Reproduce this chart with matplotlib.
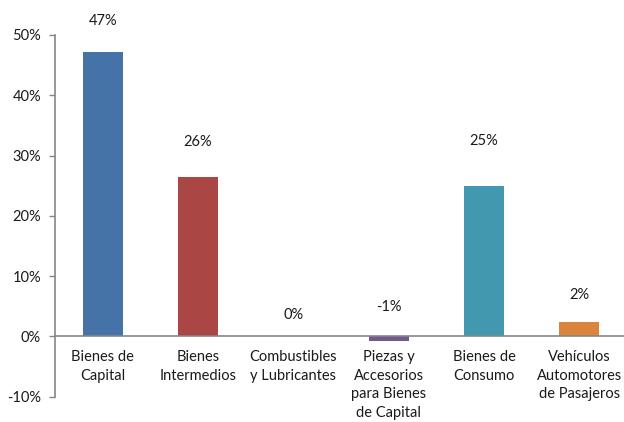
import matplotlib
matplotlib.use("Agg")
import matplotlib.pyplot as plt
import matplotlib.transforms as mtransforms

categories = ["Bienes de\nCapital", "Bienes\nIntermedios", "Combustibles\ny Lubricantes",
              "Piezas y\nAccesorios\npara Bienes\nde Capital", "Bienes de\nConsumo",
              "Vehículos\nAutomotores\nde Pasajeros"]
values = [47.2, 26.5, 0.0, -0.8, 24.9, 2.4]
value_labels = ["47%", "26%", "0%", "-1%", "25%", "2%"]
label_y = [52.3, 32.2, 3.5, 4.8, 32.4, 6.8]
colors = ["#4572A7", "#AA4643", "#89A54E", "#71588F", "#4198AF", "#DB843D"]
yticks = [-10, 0, 10, 20, 30, 40, 50]

plt.rcParams['font.family'] = ['Lato', 'DejaVu Sans']
fig = plt.figure(figsize=(6.24, 4.22), dpi=100)
ax = fig.add_axes([55/624, 25.3/422, 572/624, 361.7/422])
x = range(len(categories))
ax.bar(x, values, width=0.42, color=colors, zorder=2)
for i, (t, ly) in enumerate(zip(value_labels, label_y)):
    ax.text(i, ly, t, ha='center', va='center', fontsize=10.5, color='#1a1a1a')
off = mtransforms.ScaledTranslation(0, -10/72, fig.dpi_scale_trans)
for i, c in enumerate(categories):
    ax.text(i, 0, c, ha='center', va='top', fontsize=10.5, color='#1a1a1a',
            linespacing=1.4, transform=ax.transData + off)
ax.set_xlim(-0.5, 5.5)
ax.set_ylim(-10, 50)
ax.set_yticks(yticks)
ax.set_yticklabels([f"{v}%" for v in yticks], fontsize=10.5, color='#1a1a1a')
ax.tick_params(axis='y', length=4, width=1, color='#868686', pad=6)
ax.set_xticks([])
for s in ['top', 'right', 'bottom']:
    ax.spines[s].set_visible(False)
ax.spines['left'].set_color('#868686')
ax.spines['left'].set_linewidth(1.2)
ax.axhline(0, color='#868686', linewidth=1.2, zorder=3, clip_on=False)
fig.savefig("out.png", dpi=100)
